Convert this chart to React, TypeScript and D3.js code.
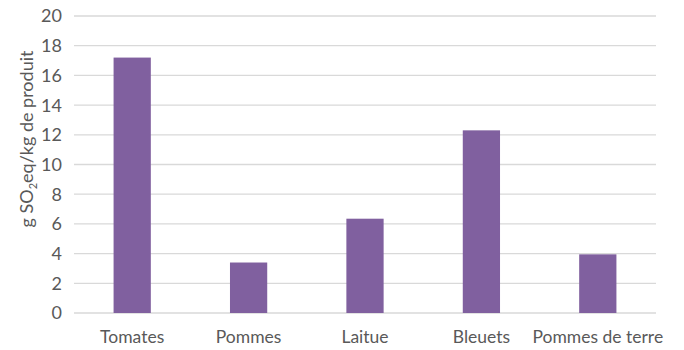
import React from "react";
import * as d3 from "d3";

const categories = ["Tomates", "Pommes", "Laitue", "Bleuets", "Pommes de terre"];
const values = [17.2, 3.4, 6.35, 12.3, 3.95];
const yTicks = [0, 2, 4, 6, 8, 10, 12, 14, 16, 18, 20];

const W = 684;
const H = 350;
const left = 74;
const right = 656;
const top = 16;
const bottom = 313;
const font = "Lato, 'Open Sans', sans-serif";
const textColor = "#595959";

export default function App() {
  const x = d3.scaleBand<string>().domain(categories).range([left, right]).paddingInner(0.68).paddingOuter(0.34);
  const y = d3.scaleLinear().domain([0, 20]).range([bottom, top]);
  return (
    <svg width={W} height={H} style={{ position: "absolute", left: 0, top: 0 }}>
      <rect width={W} height={H} fill="#fff" />
      {yTicks.map((t) => (
        <g key={t}>
          <line x1={left} x2={right} y1={y(t)} y2={y(t)} stroke="#d9d9d9" strokeWidth={1.3} />
          <text x={62} y={y(t)} dy="0.36em" textAnchor="end" fontFamily={font} fontSize={18} fill={textColor}>
            {t}
          </text>
        </g>
      ))}
      {categories.map((c, i) => (
        <rect key={c} x={x(c)} y={y(values[i])} width={x.bandwidth()} height={y(0) - y(values[i])} fill="#80609f" />
      ))}
      {categories.map((c) => (
        <text key={c} x={(x(c) as number) + x.bandwidth() / 2} y={343} textAnchor="middle" fontFamily={font} fontSize={17.5} fill={textColor}>
          {c}
        </text>
      ))}
      <text transform={`translate(33,139) rotate(-90)`} textAnchor="middle" fontFamily={font} fontSize={18} fill={textColor}>
        g SO<tspan fontSize={11} dy={4}>2</tspan><tspan dy={-4}>eq/kg de produit</tspan>
      </text>
    </svg>
  );
}
